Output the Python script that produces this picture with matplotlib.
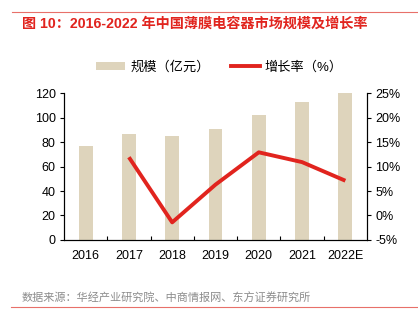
import matplotlib.pyplot as plt
from matplotlib.lines import Line2D
from matplotlib.patches import Patch
from matplotlib.ticker import FuncFormatter, MultipleLocator

plt.rcParams["font.family"] = ["Liberation Sans", "Noto Sans CJK SC", "DejaVu Sans"]

years = ["2016", "2017", "2018", "2019", "2020", "2021", "2022E"]
market_size = [77, 86.3, 84.9, 90.3, 102, 113, 120]
growth_pct = [None, 11.9, -1.4, 6.3, 12.9, 10.9, 7.1]

BAR_COLOR = "#DED4BC"
LINE_COLOR = "#E1241E"
TITLE_COLOR = "#E1241E"

fig = plt.figure(figsize=(4.18, 3.22), dpi=100)
ax = fig.add_axes([0.153, 0.2547, 0.725, 0.4563])
ax2 = ax.twinx()

x = list(range(len(years)))
ax.bar(x, market_size, width=0.32, color=BAR_COLOR, zorder=2)
gx = [i for i, g in zip(x, growth_pct) if g is not None]
gy = [g for g in growth_pct if g is not None]
ax2.plot(gx, gy, color=LINE_COLOR, linewidth=2.8, solid_capstyle="butt", zorder=3)

ax.set_xlim(-0.5, len(years) - 0.5)
ax.set_ylim(0, 120)
ax.yaxis.set_major_locator(MultipleLocator(20))
ax2.set_ylim(-5, 25)
ax2.yaxis.set_major_locator(MultipleLocator(5))
ax2.yaxis.set_major_formatter(FuncFormatter(lambda v, _: f"{v:.0f}%"))

ax.set_xticks(x)
ax.set_xticklabels(years)
ax.set_xticks([i + 0.5 for i in x[:-1]], minor=True)
ax.tick_params(axis="x", which="major", length=0, pad=7, labelsize=9)
ax.tick_params(axis="x", which="minor", direction="in", length=3, width=0.8)
ax.tick_params(axis="y", direction="out", length=3, width=0.8, labelsize=9, pad=3)
ax2.tick_params(axis="y", direction="out", length=3, width=0.8, labelsize=9, pad=3)

for a in (ax, ax2):
    a.spines["top"].set_visible(False)
    for s in ("left", "right", "bottom"):
        a.spines[s].set_linewidth(0.8)
ax.patch.set_visible(False)
ax.set_zorder(ax2.get_zorder() - 1)
ax2.patch.set_visible(False)

handles = [
    Patch(facecolor=BAR_COLOR, edgecolor="none"),
    Line2D([0], [0], color=LINE_COLOR, linewidth=2.8),
]
fig.legend(handles, ["规模（亿元）", "增长率（%）"], loc="center",
           bbox_to_anchor=(0.525, 1 - 67 / 322), ncol=2, frameon=False,
           fontsize=9.5, handlelength=2.2, handleheight=0.55,
           columnspacing=1.6, handletextpad=0.35)

fig.add_artist(Line2D([12 / 418, 1], [1 - 12 / 322] * 2, color="#E8706A", linewidth=0.8))
fig.text(22 / 418, 1 - 24 / 322, "图 10：2016-2022 年中国薄膜电容器市场规模及增长率",
         color=TITLE_COLOR, fontsize=10.2, fontweight="bold", va="center")
fig.text(22 / 418, 1 - 298 / 322, "数据来源：华经产业研究院、中商情报网、东方证券研究所",
         color="#8C8C8C", fontsize=8, va="center")
fig.add_artist(Line2D([11 / 418, 1], [1 - 307 / 322] * 2, color="#E8706A", linewidth=0.8))

fig.savefig("out.png", dpi=100)
